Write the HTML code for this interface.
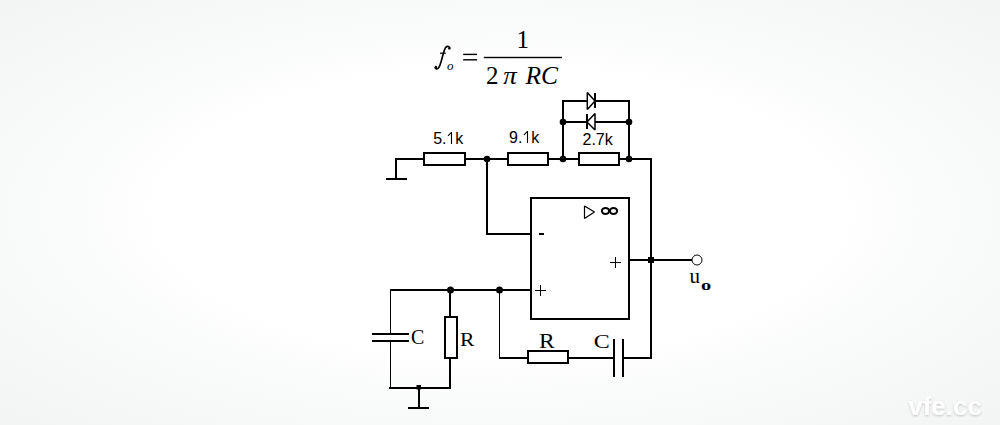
<!DOCTYPE html>
<html><head><meta charset="utf-8">
<style>
html,body{margin:0;padding:0;width:1000px;height:425px;overflow:hidden;}
body{background:radial-gradient(ellipse farthest-corner at 50% 50%, #fff 0%, #fff 48%, #f9fafa 65%, #f3f5f4 100%);position:relative;}
svg{position:absolute;left:0;top:0;}
.w{stroke:#000;fill:none;shape-rendering:crispEdges;}
.ser{font-family:"Liberation Serif",serif;}
.san{font-family:"Liberation Sans",sans-serif;}
</style></head>
<body>
<svg width="1000" height="425" viewBox="0 0 1000 425">
<!-- formula -->
<g class="ser" fill="#000">
  <path d="M449.9,48.4 C449.7,46.4 447.4,45.6 445.8,47.3 C444,49.4 442.8,56 441,62 C440,65.6 439,68.9 436.8,68.9 C435.8,68.9 435,68.1 435.3,67.2" fill="none" stroke="#000" stroke-width="1.7"/>
  <circle cx="449.3" cy="48.4" r="1.2"/>
  <circle cx="435.9" cy="66.9" r="1.2"/>
  <rect x="440" y="52.6" width="5.8" height="1.2"/>
  <text x="447" y="69.6" font-size="13" font-style="italic">o</text>
  <rect x="463.2" y="53.7" width="13.8" height="1.4"/>
  <rect x="463.2" y="59.1" width="13.8" height="1.4"/>
  <text x="516.6" y="47.7" font-size="25">1</text>
  <rect x="483.8" y="56.8" width="78.2" height="1.4"/>
  <text x="486" y="84" font-size="25">2</text>
  <text transform="translate(503.2,84) scale(1.08,1)" font-size="25" font-style="italic">π</text>
  <text x="525.5" y="84.2" font-size="25.5" font-style="italic">RC</text>
</g>

<!-- top wires -->
<g class="w" stroke-width="2">
  <path d="M386 179H407"/>
  <path d="M396 158V180"/>
  <path d="M395 159H651"/>
  <path d="M651 158V359"/>
  <path d="M487 159V234H531"/>
  <path d="M563 159V101H629V159"/>
  <path d="M563 122H629"/>
  <!-- resistors -->
  <rect x="424" y="153" width="41" height="12" fill="#fff"/>
  <rect x="508" y="153" width="40" height="12" fill="#fff"/>
  <rect x="579" y="153" width="40" height="12" fill="#fff"/>
  <!-- op amp -->
  <rect x="531" y="198" width="98" height="121" fill="none"/>
  <path d="M630 260H692"/>
  <path d="M390 290H531"/>
  <path d="M450 290V317"/>
  <path d="M450 358V388"/>
  <path d="M389 388H451"/>
  <path d="M372 334H409M372 341H409"/>
  <path d="M419 388V408M408 408H429"/>
  <rect x="445" y="317" width="12" height="41" fill="#fff"/>
  <path d="M499 358H614M623 358H651"/>
  <rect x="528" y="351" width="40" height="12" fill="#fff"/>
  <path d="M614 339V377M623 339V377"/>
</g>
<g class="w" stroke-width="1">
  <path d="M390.5 290V334M390.5 341V388"/>
  <path d="M499.5 290V358"/>
  <path d="M535 290.5H546M540.5 285V296"/>
  <path d="M610 262.5H621M615.5 257V268"/>
</g>
<!-- diodes -->
<g stroke="#000" fill="none" stroke-linejoin="bevel">
  <path d="M587.3 92.5V109.5L595 101Z" stroke-width="1.5" fill="#fff"/>
  <path d="M595 93V108" stroke-width="2" class="w"/>
  <path d="M595 113.5V130L587 122Z" stroke-width="1.5" fill="#fff"/>
  <path d="M587 114V129" stroke-width="2" class="w"/>
  <path d="M584.5 206V218.5L594.5 212Z" stroke-width="1.2"/>
</g>
<!-- infinity -->
<g stroke="#000" fill="none" stroke-width="2">
  <ellipse cx="605.5" cy="211" rx="3.6" ry="3"/>
  <ellipse cx="613.5" cy="211" rx="3.6" ry="3"/>
</g>
<!-- minus sign -->
<rect x="539" y="233" width="5" height="2" fill="#000"/>
<!-- junctions -->
<g fill="#000">
  <circle cx="487" cy="159" r="3.3"/>
  <circle cx="563" cy="159" r="3.3"/>
  <circle cx="629" cy="159" r="3.3"/>
  <circle cx="563" cy="122" r="3.3"/>
  <circle cx="629" cy="122" r="3.3"/>
  <circle cx="450.5" cy="290" r="3.5"/>
  <circle cx="499.5" cy="290" r="3.5"/>
  <rect x="648" y="257" width="6" height="6"/>
  <rect x="416.5" y="385" width="4.5" height="4.5"/>
</g>
<circle cx="697" cy="260" r="5" fill="#fff" stroke="#000" stroke-width="1"/>
<!-- labels -->
<g class="san" font-size="16" fill="#000">
  <text x="433.2" y="144">5.</text>
  <text x="455.2" y="144">k</text>
  <text x="509" y="143">9.</text>
  <text x="531.2" y="143">k</text>
  <text x="582.5" y="145">2.7k</text>
</g>
<g class="ser" font-size="20" fill="#000">
  <text x="411" y="344">C</text>
  <text transform="translate(460,346) scale(1.08,0.95)">R</text>
  <text transform="translate(539,348.1) scale(1.18,1)">R</text>
  <text transform="translate(593.8,348) scale(1.2,0.98)">C</text>
  <text x="689.4" y="283.2" font-size="21">u</text>
  <text transform="translate(700.9,289.6) scale(1.02,0.78)" font-size="20" font-weight="bold">o</text>
</g>
<g stroke="#000" stroke-width="1.1" fill="none">
  <path d="M451.5 132V144M451.2 132.6L448 135.8"/>
  <path d="M527.5 131V143M527.2 131.6L524 134.8"/>
</g>
<!-- watermark -->
<defs><filter id="sh" x="-10%" y="-30%" width="120%" height="160%"><feGaussianBlur in="SourceAlpha" stdDeviation="1"/><feOffset dx="0.3" dy="0.8" result="b"/><feFlood flood-color="#000" flood-opacity="0.22"/><feComposite in2="b" operator="in"/><feMerge><feMergeNode/><feMergeNode in="SourceGraphic"/></feMerge></filter></defs>
<text x="908.2" y="415.4" class="san" font-size="26" font-weight="bold" fill="#fff" filter="url(#sh)">vfe.cc</text>
</svg>
</body></html>
